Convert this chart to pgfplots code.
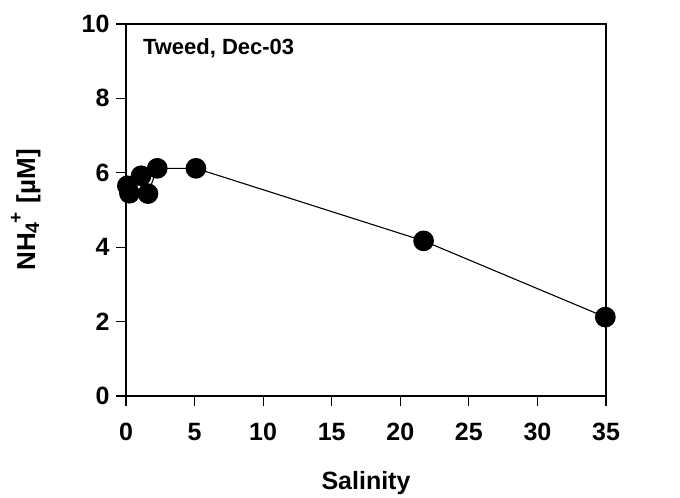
\documentclass[border=0pt]{standalone}
\usepackage{pgfplots}
\pgfplotsset{compat=1.18}
\usepackage{fontspec}
\setmainfont{Liberation Sans}
\begin{document}
\begin{tikzpicture}[x=1bp,y=1bp]
\path[use as bounding box] (-126,-102) rectangle (554,396);
\begin{axis}[
  at={(0,0)}, anchor=south west,
  scale only axis,
  width=480bp, height=372bp,
  xmin=0, xmax=35, ymin=0, ymax=10,
  xtick={0,5,...,35}, ytick={0,2,...,10},
  axis line style={line width=1.1bp},
  tick style={line width=1.1bp, black},
  tick align=outside,
  major tick length=10bp,
  xtick pos=bottom, ytick pos=left,
  /pgf/number format/assume math mode=true,
  ticklabel style={font=\fontsize{25bp}{28bp}\selectfont\bfseries},
  xticklabel style={yshift=-14bp},
  yticklabel style={xshift=-3bp},
  xlabel={\fontsize{25bp}{28bp}\selectfont\bfseries Salinity},
  ylabel={\fontsize{26bp}{30bp}\selectfont\bfseries
    NH\raisebox{-4bp}{\fontsize{19.5bp}{22bp}\selectfont 4}\kern-1bp\raisebox{13bp}{\fontsize{19bp}{22bp}\selectfont +}\hspace{0.35em}[µM]},
  xlabel style={at={(axis description cs:0.5,0)}, anchor=north, yshift=-72bp},
  ylabel style={at={(axis description cs:0,0.5)}, anchor=south, yshift=82bp},
  clip=false,
]
\addplot[black, line width=1.1bp, mark=*, mark size=9.8bp,
  mark options={fill=black, draw=black}] coordinates {
  (0.10,5.65) (0.25,5.45) (1.10,5.92) (1.60,5.44) (2.28,6.12)
  (5.10,6.12) (21.70,4.17) (34.95,2.12)
};
\node[anchor=base west, inner sep=0pt, font=\fontsize{22bp}{24bp}\selectfont\bfseries]
  at (axis description cs:0.035,0.917) {Tweed, Dec-03};
\end{axis}
\end{tikzpicture}
\end{document}
